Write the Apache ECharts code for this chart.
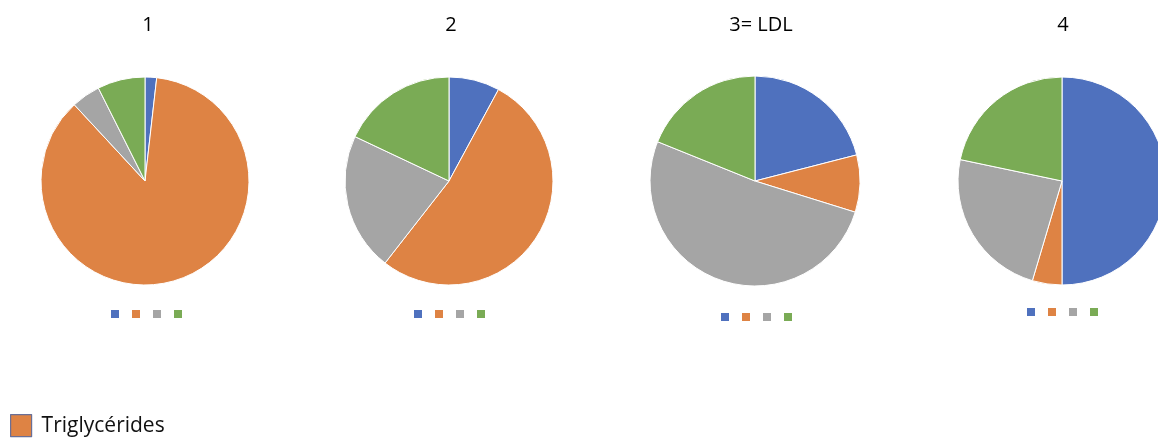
<!DOCTYPE html>
<html>
<head>
<meta charset="utf-8">
<script src="https://cdn.jsdelivr.net/npm/echarts@6/dist/echarts.min.js"></script>
<style>
html,body{margin:0;padding:0;background:#fff;}
#main{width:1158px;height:439px;}
</style>
</head>
<body>
<div id="main"></div>
<script>
// Data
const categories = ['Protéines', 'Triglycérides', 'Cholestérol', 'Phospholipides'];
const titles = ['1', '2', '3= LDL', '4'];
const pie1 = [1.8, 86.3, 4.5, 7.4];
const pie2 = [7.9, 52.7, 21.5, 18.0];
const pie3 = [21.0, 8.8, 51.3, 18.9];
const pie4 = [50.0, 4.6, 23.7, 21.7];
const bottomLegend = ['Triglycérides'];

const pies = [pie1, pie2, pie3, pie4];
const colors = ['#4F71BE', '#DE8344', '#A5A5A5', '#7AAB55'];
const centers = [[145, 181], [449, 181], [755, 181], [1062, 181]];
const radii = [104, 104, 105, 104];
const titleX = [148, 451, 761, 1063];
const legendPos = [[111, 310], [414, 310], [721, 313], [1027, 308]];

const chart = echarts.init(document.getElementById('main'), null, {renderer: 'canvas'});

const option = {
  animation: false,
  color: colors,
  title: titles.map((t, i) => ({
    text: t,
    left: titleX[i],
    top: 15,
    padding: 0,
    textAlign: 'center',
    textStyle: {fontFamily: 'Open Sans', fontSize: 20, fontWeight: 'normal', color: '#000'}
  })),
  legend: legendPos.map(p => ({
    data: categories,
    left: p[0],
    top: p[1],
    padding: 0,
    icon: 'rect',
    itemWidth: 8,
    itemHeight: 8,
    itemGap: 13,
    selectedMode: false,
    itemStyle: {borderWidth: 0},
    formatter: () => '',
    textStyle: {fontSize: 8, padding: 0}
  })).concat([{
    data: bottomLegend,
    left: 10,
    top: 414,
    padding: 0,
    icon: 'rect',
    itemWidth: 21,
    itemHeight: 22,
    selectedMode: false,
    itemStyle: {borderColor: '#6a6f96', borderWidth: 1.2},
    textStyle: {fontFamily: 'Open Sans', fontSize: 21, color: '#111', padding: [0, 0, 0, 5]}
  }]),
  series: pies.map((vals, i) => ({
    type: 'pie',
    center: centers[i],
    radius: radii[i],
    startAngle: 90,
    clockwise: true,
    label: {show: false},
    labelLine: {show: false},
    silent: true,
    itemStyle: {borderColor: '#ffffff', borderWidth: 1},
    data: vals.map((v, j) => ({name: categories[j], value: v}))
  }))
};
chart.setOption(option);
</script>
</body>
</html>
